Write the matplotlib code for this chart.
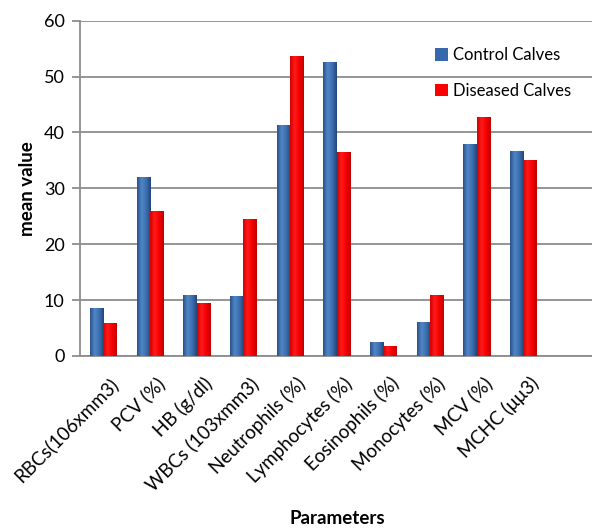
import matplotlib
matplotlib.use("Agg")
import matplotlib.pyplot as plt
import matplotlib.transforms as mtransforms
import numpy as np
from matplotlib.colors import LinearSegmentedColormap

categories = ["RBCs(106xmm3)", "PCV (%)", "HB (g/dl)", "WBCs (103xmm3)", "Neutrophils (%)",
              "Lymphocytes (%)", "Eosinophils (%)", "Monocytes (%)", "MCV (%)", "MCHC (\u03bc\u03bc3)"]
control = [8.6, 32.0, 11.0, 10.7, 41.4, 52.6, 2.5, 6.0, 38.0, 36.7]
diseased = [5.9, 25.9, 9.5, 24.6, 53.6, 36.5, 1.7, 11.0, 42.7, 35.0]
series_names = ["Control Calves", "Diseased Calves"]

plt.rcParams['font.family'] = ['Lato', 'DejaVu Sans']

fig = plt.figure(figsize=(5.92, 5.28), dpi=100)
ax = fig.add_axes([80/592, (528-356)/528, (592-80)/592, (356-20.7)/528])

x = np.arange(len(categories))
w = 0.286
blue = "#3768ab"
red = "#ff0000"
b1 = ax.bar(x - w/2, control, w, color=blue, zorder=3, label=series_names[0])
b2 = ax.bar(x + w/2, diseased, w, color=red, zorder=3, label=series_names[1])

cmap_b = LinearSegmentedColormap.from_list("b", ["#2a5189", "#4f86c6", "#3c6fb0", "#23467a"])
cmap_r = LinearSegmentedColormap.from_list("r", ["#d40000", "#ff1a1a", "#f50000", "#c00000"])
grad = np.linspace(0, 1, 64).reshape(1, -1)
for bars, cm in ((b1, cmap_b), (b2, cmap_r)):
    for p in bars:
        x0, y0, ww, hh = p.get_x(), p.get_y(), p.get_width(), p.get_height()
        im = ax.imshow(grad, cmap=cm, extent=(x0, x0 + ww, y0, y0 + hh), aspect='auto', zorder=4)
        im.set_clip_path(p)

ax.set_xlim(-0.5, 10.47)
ax.set_ylim(0, 60)
ax.set_yticks(range(0, 61, 10))
ax.yaxis.grid(True, color="#8c8c8c", linewidth=1.3, zorder=0)
ax.set_axisbelow(True)
for s in ["top", "right"]:
    ax.spines[s].set_visible(False)
ax.spines["left"].set_color("#8c8c8c")
ax.spines["bottom"].set_color("#8c8c8c")
ax.spines["left"].set_linewidth(1.3)
ax.spines["bottom"].set_linewidth(1.3)
ax.tick_params(axis='y', length=6, color="#8c8c8c", width=1.3, labelsize=13, pad=5)
ax.tick_params(axis='x', length=0, labelsize=13.5, pad=13)
ax.set_xticks(x)
ax.set_xticklabels(categories, rotation=45, ha='right', rotation_mode='anchor')
offset = mtransforms.ScaledTranslation(6/100, 0, fig.dpi_scale_trans)
for lab in ax.get_xticklabels():
    lab.set_transform(lab.get_transform() + offset)

ax.set_ylabel("mean value", fontsize=13.5, fontweight='bold', labelpad=6)
fig.text(337/592, 1 - 519/528, "Parameters", fontsize=13.5, fontweight='bold', ha='center', va='center')

ax.legend(loc='upper left', bbox_to_anchor=(427/592, 1 - 39/528), bbox_transform=fig.transFigure,
          frameon=False, borderpad=0, handlelength=0.75, handleheight=0.75, handletextpad=0.3,
          labelspacing=1.15, fontsize=12)

fig.savefig("out.png", dpi=100)
